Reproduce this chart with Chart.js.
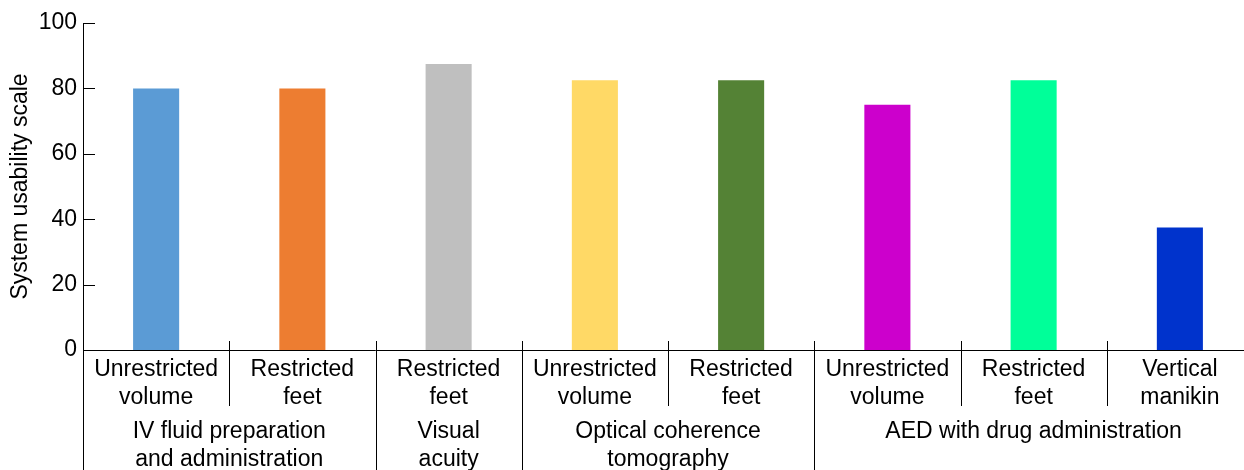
<!DOCTYPE html>
<html>
<head>
<meta charset="utf-8">
<script src="https://cdn.jsdelivr.net/npm/chart.js@4/dist/chart.umd.min.js"></script>
<style>
html,body{margin:0;padding:0;background:#fff;overflow:hidden;}
#wrap{width:1253px;height:470px;position:relative;}
</style>
</head>
<body>
<div id="wrap"><canvas id="c" width="1253" height="470"></canvas></div>
<script>
const subLabels = [
  ['Unrestricted','volume'],
  ['Restricted','feet'],
  ['Restricted','feet'],
  ['Unrestricted','volume'],
  ['Restricted','feet'],
  ['Unrestricted','volume'],
  ['Restricted','feet'],
  ['Vertical','manikin']
];
const values = [80, 80, 87.5, 82.5, 82.5, 75, 82.5, 37.5];
const barColors = ['#5B9BD5','#ED7D31','#BFBFBF','#FFD966','#548235','#CC00CC','#00FF99','#0033CC'];
const groupNames = [
  ['IV fluid preparation','and administration'],
  ['Visual','acuity'],
  ['Optical coherence','tomography'],
  ['AED with drug administration']
];
const groupStart = [0, 2, 3, 5];
const groupEnd = [1, 2, 4, 7];
const yTicks = [0, 20, 40, 60, 80, 100];
const yTitle = 'System usability scale';

const FONT = 'Arial, "Liberation Sans", Helvetica, sans-serif';
const FS = 23;

const decor = {
  id: 'decor',
  afterDraw(chart) {
    const ctx = chart.ctx;
    const x = chart.scales.x, y = chart.scales.y;
    const area = chart.chartArea;
    const H = chart.height;
    ctx.save();
    ctx.strokeStyle = '#000';
    ctx.lineWidth = 1;
    yTicks.forEach(v => {
      const py = Math.round(y.getPixelForValue(v)) + 0.5;
      ctx.beginPath();
      ctx.moveTo(area.left, py);
      ctx.lineTo(area.left + 12, py);
      ctx.stroke();
    });
    const lx = Math.round(area.left) + 0.5;
    ctx.beginPath();
    ctx.moveTo(lx, area.bottom);
    ctx.lineTo(lx, H);
    ctx.stroke();
    const isGroupBoundary = new Set(groupStart.filter(s => s > 0));
    for (let i = 1; i < values.length; i++) {
      const px = Math.round((x.getPixelForValue(i - 1) + x.getPixelForValue(i)) / 2) + 0.5;
      ctx.beginPath();
      ctx.moveTo(px, area.bottom - 9);
      ctx.lineTo(px, isGroupBoundary.has(i) ? H : area.bottom + 56);
      ctx.stroke();
    }
    ctx.fillStyle = '#000';
    ctx.font = FS + 'px ' + FONT;
    ctx.textAlign = 'center';
    ctx.textBaseline = 'middle';
    groupNames.forEach((lines, g) => {
      const cx = (x.getPixelForValue(groupStart[g]) + x.getPixelForValue(groupEnd[g])) / 2;
      lines.forEach((t, k) => {
        ctx.fillText(t, cx, area.bottom + 82 + k * 28);
      });
    });
    ctx.restore();
  }
};

new Chart(document.getElementById('c'), {
  type: 'bar',
  data: {
    labels: subLabels,
    datasets: [{
      data: values,
      backgroundColor: barColors,
      borderWidth: 0,
      barPercentage: 0.315,
      categoryPercentage: 1.0
    }]
  },
  options: {
    responsive: false,
    animation: false,
    events: [],
    layout: { padding: { left: 7, top: 23, right: 0, bottom: 0 } },
    plugins: { legend: { display: false }, tooltip: { enabled: false } },
    scales: {
      x: {
        grid: { display: false, drawTicks: false },
        border: { display: true, color: '#000', width: 1 },
        ticks: {
          color: '#000',
          font: { family: FONT, size: FS, lineHeight: 1.22 },
          padding: 6,
          maxRotation: 0,
          autoSkip: false
        },
        afterFit(s) { s.height = 120; }
      },
      y: {
        min: 0, max: 100,
        grid: { display: false, drawTicks: false },
        border: { display: true, color: '#000', width: 1 },
        ticks: {
          stepSize: 20,
          color: '#000',
          font: { family: FONT, size: FS },
          padding: 6
        },
        title: {
          display: true,
          text: yTitle,
          color: '#000',
          font: { family: FONT, size: FS },
          padding: { top: 0, bottom: 0 }
        },
        afterFit(s) { s.width = 76; }
      }
    }
  },
  plugins: [decor]
});
</script>
</body>
</html>
